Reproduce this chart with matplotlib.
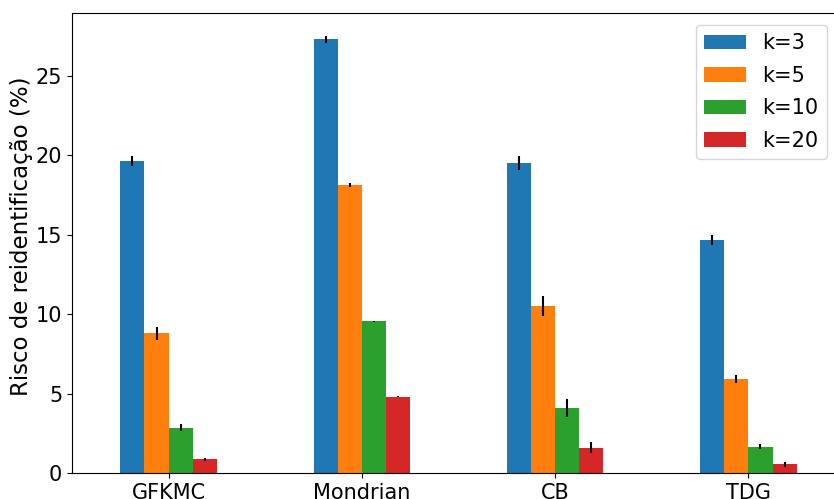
import matplotlib
matplotlib.use("Agg")
import matplotlib.pyplot as plt
import numpy as np

methods = ["GFKMC", "Mondrian", "CB", "TDG"]
k_labels = ["k=3", "k=5", "k=10", "k=20"]

# risk (%) per method, one list per k
risk_k3 = [19.65, 27.31, 19.54, 14.67]
risk_k5 = [8.80, 18.14, 10.52, 5.92]
risk_k10 = [2.85, 9.55, 4.09, 1.66]
risk_k20 = [0.86, 4.81, 1.60, 0.55]

# standard deviations
err_k3 = [0.33, 0.22, 0.45, 0.31]
err_k5 = [0.42, 0.12, 0.63, 0.28]
err_k10 = [0.22, 0.05, 0.57, 0.16]
err_k20 = [0.10, 0.02, 0.35, 0.16]

colors = ["#1f77b4", "#ff7f0e", "#2ca02c", "#d62728"]

fig = plt.figure(figsize=(8.34, 4.99), dpi=100)
ax = fig.add_axes([72 / 834, 1 - 473 / 499, (845 - 72) / 834, (473 - 13) / 499])

x = np.arange(len(methods))
w = 0.125
series = [risk_k3, risk_k5, risk_k10, risk_k20]
errors = [err_k3, err_k5, err_k10, err_k20]
for i, (vals, errs) in enumerate(zip(series, errors)):
    ax.bar(x + (i - 1.5) * w, vals, w, yerr=errs, color=colors[i],
           label=k_labels[i], error_kw=dict(ecolor="black", elinewidth=1.5))

ax.set_xticks(x)
ax.set_xticklabels(methods, fontsize=15)
ax.tick_params(axis="y", labelsize=15)
ax.set_yticks([0, 5, 10, 15, 20, 25])
ax.set_xlim(-0.5, 3.5)
ax.set_ylim(0, 28.97)
ax.set_ylabel("Risco de reidentificação (%)", fontsize=16.5)
ax.yaxis.set_label_coords(-0.0505, 0.515)

ax.legend(loc="upper right", bbox_to_anchor=(827 / 834, 1 - 25 / 499),
          bbox_transform=fig.transFigure, borderaxespad=0, fontsize=15,
          labelspacing=0.6)

fig.savefig("out.png", dpi=100)
